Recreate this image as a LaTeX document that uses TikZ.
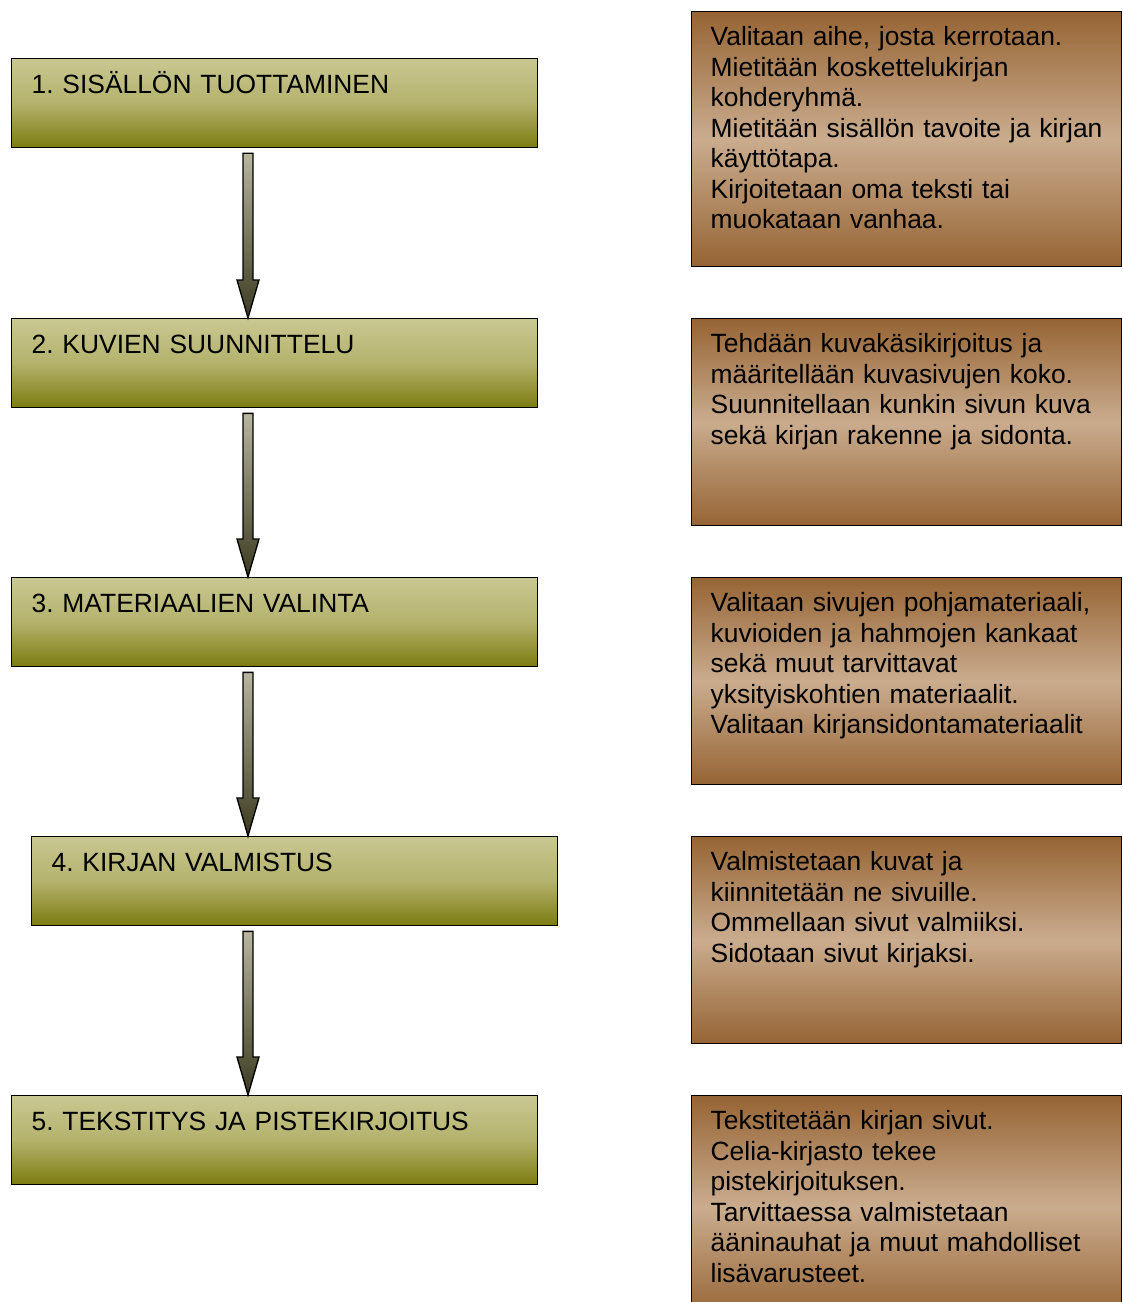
\documentclass[tikz,border=0pt]{standalone}
\usepackage{fontspec}
\setmainfont{Liberation Sans}
\usetikzlibrary{calc}
\frenchspacing

\definecolor{khakiTop}{RGB}{201,200,146}
\definecolor{khakiMid}{RGB}{180,178,108}
\definecolor{oliveBot}{RGB}{124,124,16}
\definecolor{brownEdge}{RGB}{150,100,52}
\definecolor{brownMid}{RGB}{202,172,142}
\definecolor{arrowTop}{RGB}{184,182,158}
\definecolor{arrowBot}{RGB}{58,58,32}

% fat shaded arrow between two stages, on the x of (axis)
\newcommand{\flowarrow}[2]{%
  \shade[draw=black, line width=1pt, top color=arrowTop, bottom color=arrowBot]
    let \p1=(axis), \p2=(#1.south), \p3=(#2.north) in
    (\x1-3.75pt,\y2-3.75pt) -- (\x1-3.75pt,\y3+28.5pt) -- (\x1-8.25pt,\y3+28.5pt)
    -- (\x1,\y3) -- (\x1+8.25pt,\y3+28.5pt) -- (\x1+3.75pt,\y3+28.5pt)
    -- (\x1+3.75pt,\y2-3.75pt) -- cycle;}

\begin{document}
\begin{tikzpicture}[
      x=0.75pt, y=-0.75pt,
      font=\fontsize{19.8pt}{22.9pt}\selectfont,
      stage/.style={draw=black, line width=1pt, anchor=north west,
        top color=khakiTop, bottom color=oliveBot, middle color=khakiMid,
        align=left, text width=364.5pt, inner xsep=15pt, inner ysep=0pt,
        text height=26.25pt, text depth=40.5pt},
      info/.style={draw=black, line width=1pt, anchor=north west,
        top color=brownEdge, bottom color=brownEdge, middle color=brownMid,
        align=left, text width=294pt, inner xsep=14.25pt, inner ysep=0pt,
        text height=25.5pt, text depth=129.75pt}]

    \clip (0,0) rectangle (1122,1302);
    \coordinate (axis) at (248,0);

    \node[stage] (s1) at (11,58) {1. SISÄLLÖN TUOTTAMINEN};
    \node[stage] (s2) at (11,318) {2. KUVIEN SUUNNITTELU};
    \node[stage] (s3) at (11,577) {3. MATERIAALIEN VALINTA};
    \node[stage] (s4) at (31,836) {4. KIRJAN VALMISTUS};
    \node[stage] (s5) at (11,1095) {5. TEKSTITYS JA PISTEKIRJOITUS};

    \node[info, text depth=165.75pt] (i1) at (691,11) {Valitaan aihe, josta kerrotaan.\\
      Mietitään koskettelukirjan\\ kohderyhmä.\\
      Mietitään sisällön tavoite ja~kirjan\\ käyttötapa.\\
      Kirjoitetaan oma teksti tai\\ muokataan vanhaa.};
    \node[info] (i2) at (691,318) {Tehdään kuvakäsikirjoitus ja\\
      määritellään kuvasivujen koko.\\
      Suunnitellaan kunkin sivun kuva\\
      sekä kirjan rakenne ja sidonta.};
    \node[info] (i3) at (691,577) {Valitaan sivujen pohjamateriaali,\\
      kuvioiden ja hahmojen kankaat\\
      sekä muut tarvittavat\\
      yksityiskohtien materiaalit.\\
      Valitaan kirjansidontamateriaalit};
    \node[info] (i4) at (691,836) {Valmistetaan kuvat ja\\
      kiinnitetään ne sivuille.\\
      Ommellaan sivut valmiiksi.\\
      Sidotaan sivut kirjaksi.};
    \node[info, text depth=141.75pt] (i5) at (691,1095) {Tekstitetään kirjan sivut.\\
      Celia-kirjasto tekee\\ pistekirjoituksen.\\
      Tarvittaessa valmistetaan\\
      ääninauhat ja muut mahdolliset\\ lisävarusteet.};

    \flowarrow{s1}{s2}
    \flowarrow{s2}{s3}
    \flowarrow{s3}{s4}
    \flowarrow{s4}{s5}
\end{tikzpicture}
\end{document}
